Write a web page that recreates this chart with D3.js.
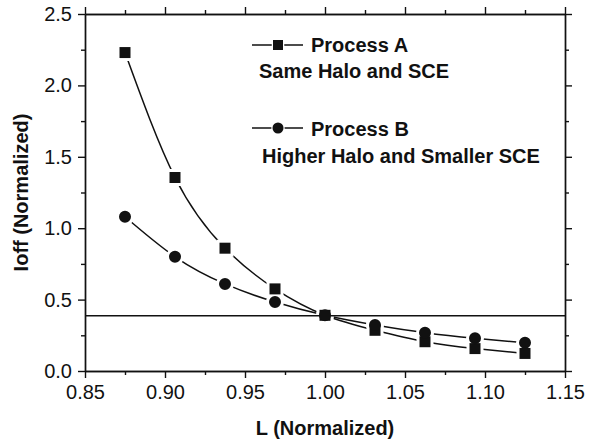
<!DOCTYPE html>
<html>
<head>
<meta charset="utf-8">
<script src="https://cdn.jsdelivr.net/npm/d3@7"></script>
<style>
  body { margin: 0; background: #fff; }
  svg { display: block; font-family: "Liberation Sans", Arial, sans-serif; }
  .axis path, .axis line { stroke: #111; stroke-width: 1.4; }
  .axis text { font-size: 20px; fill: #111; }
  .title { font-size: 20px; font-weight: bold; fill: #111; }
  .legend text { font-size: 20px; font-weight: bold; fill: #111; }
</style>
</head>
<body>
<div id="chart"></div>
<script>
// data
const lengths = [0.875, 0.90625, 0.9375, 0.96875, 1.0, 1.03125, 1.0625, 1.09375, 1.125];
const ioffA = [2.23, 1.355, 0.86, 0.575, 0.39, 0.285, 0.205, 0.157, 0.123];
const ioffB = [1.08, 0.80, 0.61, 0.483, 0.39, 0.322, 0.268, 0.229, 0.198];
const refIoff = 0.387;

const xTicks = [0.85, 0.90, 0.95, 1.00, 1.05, 1.10, 1.15];
const xMinor = [0.875, 0.925, 0.975, 1.025, 1.075, 1.125];
const yTicks = [0.0, 0.5, 1.0, 1.5, 2.0, 2.5];
const yMinor = [0.25, 0.75, 1.25, 1.75, 2.25];

const legendA = ["Process A", "Same Halo and SCE"];
const legendB = ["Process B", "Higher Halo and Smaller SCE"];

(() => {
  const W = 592, H = 443;
  const margin = { top: 14, right: 27, bottom: 72, left: 85 };
  const width = W - margin.left - margin.right;
  const height = H - margin.top - margin.bottom;

  const root = d3.select("#chart").append("svg")
    .attr("width", W).attr("height", H)
    .attr("viewBox", `0 0 ${W} ${H}`);
  const svg = root.append("g").attr("transform", `translate(${margin.left},${margin.top})`);

  const x = d3.scaleLinear().domain([0.85, 1.15]).range([0, width]);
  const y = d3.scaleLinear().domain([0, 2.5]).range([height, 0]);

  // === 축 (major + minor, 네 변 모두)
  const fx = d3.format(".2f"), fy = d3.format(".1f");
  svg.append("g").attr("class", "axis").attr("transform", `translate(0,${height})`)
    .call(d3.axisBottom(x).tickValues(xTicks).tickFormat(fx).tickSize(7).tickSizeOuter(0).tickPadding(7));
  svg.append("g").attr("class", "axis").attr("transform", `translate(0,${height})`)
    .call(d3.axisBottom(x).tickValues(xMinor).tickFormat("").tickSize(4).tickSizeOuter(0));
  svg.append("g").attr("class", "axis")
    .call(d3.axisTop(x).tickValues(xTicks).tickFormat("").tickSize(7).tickSizeOuter(0));
  svg.append("g").attr("class", "axis")
    .call(d3.axisTop(x).tickValues(xMinor).tickFormat("").tickSize(4).tickSizeOuter(0));

  svg.append("g").attr("class", "axis")
    .call(d3.axisLeft(y).tickValues(yTicks).tickFormat(fy).tickSize(7).tickSizeOuter(0).tickPadding(6));
  svg.append("g").attr("class", "axis")
    .call(d3.axisLeft(y).tickValues(yMinor).tickFormat("").tickSize(4).tickSizeOuter(0));
  svg.append("g").attr("class", "axis").attr("transform", `translate(${width},0)`)
    .call(d3.axisRight(y).tickValues(yTicks).tickFormat("").tickSize(7).tickSizeOuter(0));
  svg.append("g").attr("class", "axis").attr("transform", `translate(${width},0)`)
    .call(d3.axisRight(y).tickValues(yMinor).tickFormat("").tickSize(4).tickSizeOuter(0));

  // 축 제목
  svg.append("text").attr("class", "title")
    .attr("x", width / 2).attr("y", height + 64)
    .attr("text-anchor", "middle").text("L (Normalized)");
  svg.append("text").attr("class", "title")
    .attr("transform", `translate(${28 - margin.left},${height / 2}) rotate(-90)`)
    .attr("text-anchor", "middle").text("Ioff (Normalized)");

  // === 라인
  const line = d3.line().curve(d3.curveNatural).x(d => x(d[0])).y(d => y(d[1]));
  const ptsA = lengths.map((l, i) => [l, ioffA[i]]);
  const ptsB = lengths.map((l, i) => [l, ioffB[i]]);

  [ptsA, ptsB].forEach(p => {
    svg.append("path").datum(p).attr("d", line)
      .attr("fill", "none").attr("stroke", "#111").attr("stroke-width", 1.5);
  });

  const sq = d3.symbol().type(d3.symbolSquare).size(121);
  const ci = d3.symbol().type(d3.symbolCircle).size(113);

  // 마커 주변 흰 여백
  const halo = svg.append("g");
  ptsA.forEach(d => halo.append("path").attr("d", sq())
    .attr("transform", `translate(${x(d[0])},${y(d[1])})`)
    .attr("fill", "#fff").attr("stroke", "#fff").attr("stroke-width", 6));
  ptsB.forEach(d => halo.append("path").attr("d", ci())
    .attr("transform", `translate(${x(d[0])},${y(d[1])})`)
    .attr("fill", "#fff").attr("stroke", "#fff").attr("stroke-width", 6));

  // 기준선
  svg.append("line")
    .attr("x1", 0).attr("x2", width)
    .attr("y1", y(refIoff)).attr("y2", y(refIoff))
    .attr("stroke", "#111").attr("stroke-width", 1.5);

  const marks = svg.append("g");
  ptsA.forEach(d => marks.append("path").attr("d", sq())
    .attr("transform", `translate(${x(d[0])},${y(d[1])})`).attr("fill", "#111"));
  ptsB.forEach(d => marks.append("path").attr("d", ci())
    .attr("transform", `translate(${x(d[0])},${y(d[1])})`).attr("fill", "#111"));

  // === 범례
  const lg = root.append("g").attr("class", "legend");
  const entries = [
    { sym: d3.symbol().type(d3.symbolSquare).size(100), text: legendA, sy: 45, y1: 52, y2: 78, x2: 259 },
    { sym: d3.symbol().type(d3.symbolCircle).size(95), text: legendB, sy: 128, y1: 136, y2: 163, x2: 262 },
  ];
  entries.forEach(e => {
    lg.append("line").attr("x1", 252).attr("x2", 303).attr("y1", e.sy).attr("y2", e.sy)
      .attr("stroke", "#111").attr("stroke-width", 1.5);
    lg.append("path").attr("d", e.sym()).attr("transform", `translate(278,${e.sy})`)
      .attr("fill", "#111").attr("stroke", "#fff").attr("stroke-width", 2.5).attr("paint-order", "stroke");
    lg.append("text").attr("x", 311).attr("y", e.y1).text(e.text[0]);
    lg.append("text").attr("x", e.x2).attr("y", e.y2).text(e.text[1]);
  });
})();
</script>
</body>
</html>
